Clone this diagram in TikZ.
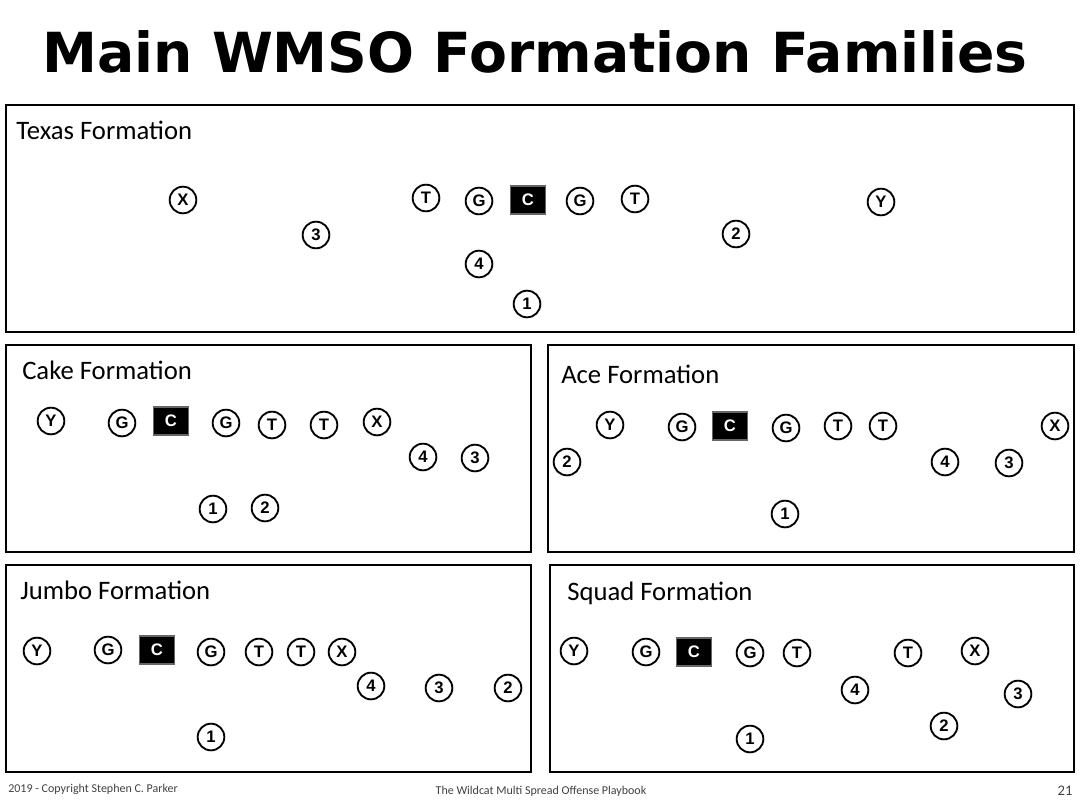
\documentclass[tikz,border=0pt]{standalone}
\usepackage{fontspec}
\setmainfont{Carlito}
\newfontfamily\titlefont{DejaVu Sans}
\newfontfamily\plfont{Liberation Sans}
\tikzset{
  panel/.style={draw, line width=2.2pt},
  plyr/.style={circle, draw, line width=1.4pt, minimum size=20pt, inner sep=0pt, font=\plfont\bfseries\fontsize{12.5}{12}\selectfont},
  ctr/.style={rectangle, draw=black!60, fill=black, text=white, line width=1pt, minimum width=26pt, minimum height=21pt, inner sep=0pt, font=\plfont\bfseries\fontsize{12.5}{12}\selectfont},
  ptitle/.style={anchor=west, inner sep=0pt, font=\fontsize{20}{22}\selectfont},
  foot/.style={inner sep=0pt, font=\fontsize{9}{10}\selectfont, text=black!75}
}
\begin{document}
\begin{tikzpicture}[x=0.75pt, y=-0.75pt]
\useasboundingbox (0,0) rectangle (1085,810);
\node (title) at (535,52) {\resizebox{739pt}{!}{\titlefont\bfseries\fontsize{42}{44}\selectfont Main WMSO Formation Families}};
% panels
\draw[panel] (6,105) rectangle (1074,332);
\draw[panel] (6,345) rectangle (531,552);
\draw[panel] (548,345) rectangle (1074,552);
\draw[panel] (6,565) rectangle (531,772);
\draw[panel] (550,565) rectangle (1074,772);
\node[ptitle] (texas) at (16,130) {Texas Formation};
\node[ptitle] (cake) at (22,370) {Cake Formation};
\node[ptitle] (ace) at (561,374) {Ace Formation};
\node[ptitle] (jumbo) at (20,590) {Jumbo Formation};
\node[ptitle] (squad) at (567,593) {Squad Formation};
% centers
\node[ctr] (texC) at (528,200) {C};
\node[ctr] (cakC) at (171,421) {C};
\node[ctr] (aceC) at (730,426) {C};
\node[ctr] (jumC) at (157,650) {C};
\node[ctr] (squC) at (694,652) {C};
% Texas
\foreach \n/\x/\y/\t in {X/183/200/X, Tl/426/198/T, Gl/479/201/G, Gr/580/201/G, Tr/635/199/T, Y/881/202/Y,
  p3/316/235/3, p2/736/234/2, p4/479/264/4, p1/527/304/1}
  \node[plyr] (tex\n) at (\x,\y) {\t};
% Cake
\foreach \n/\x/\y/\t in {Y/51/421/Y, Gl/122/423/G, Gr/226/423/G, Tl/272/425/T, Tr/324/425/T, X/377/422/X,
  p4/423/457/4, p3/475/458/3, p1/213/509/1, p2/265/508/2}
  \node[plyr] (cak\n) at (\x,\y) {\t};
% Ace
\foreach \n/\x/\y/\t in {Y/610/425/Y, Gl/682/427/G, Gr/786/428/G, Tl/838/426/T, Tr/883/426/T, X/1055/426/X,
  p2/567/462/2, p4/945/462/4, p3/1009/463/3, p1/785/514/1}
  \node[plyr] (ace\n) at (\x,\y) {\t};
% Jumbo
\foreach \n/\x/\y/\t in {Y/37/651/Y, Gl/108/650/G, Gr/211/652/G, Tl/259/652/T, Tr/301/652/T, X/342/652/X,
  p4/371/686/4, p3/439/688/3, p2/508/688/2, p1/211/737/1}
  \node[plyr] (jum\n) at (\x,\y) {\t};
% Squad
\foreach \n/\x/\y/\t in {Y/574/651/Y, Gl/646/652/G, Gr/750/653/G, Tl/797/653/T, Tr/908/653/T, X/975/651/X,
  p4/855/690/4, p3/1018/694/3, p2/944/726/2, p1/750/739/1}
  \node[plyr] (squ\n) at (\x,\y) {\t};
% footer
\node[foot, anchor=west] (copy) at (8,789) {2019 - Copyright Stephen C. Parker};
\node[foot] (book) at (541,791) {The Wildcat Multi Spread Offense Playbook};
\node[foot, font=\fontsize{11}{12}\selectfont] (page) at (1065,791) {21};
\end{tikzpicture}
\end{document}
